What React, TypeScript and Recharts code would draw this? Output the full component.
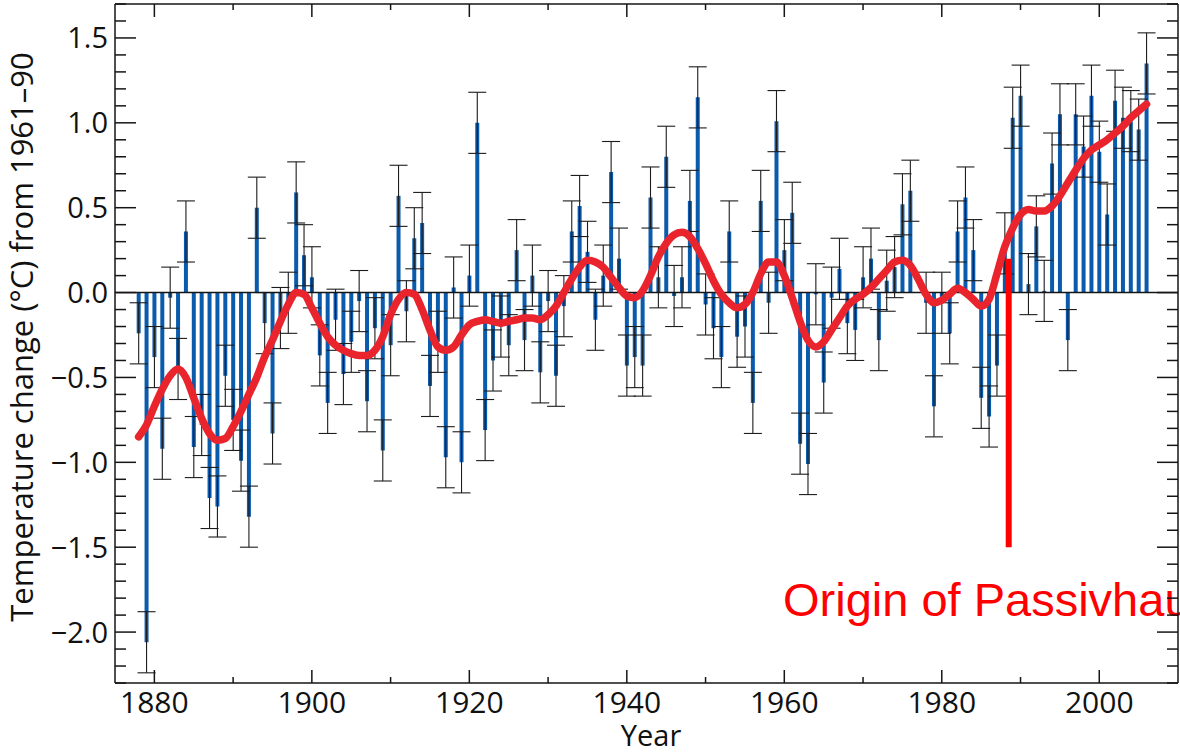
import React from 'react';
import { ComposedChart, Bar, Line, XAxis, YAxis, ErrorBar, ReferenceLine, Customized } from 'recharts';

// annual anomalies, 1878 .. 2006 (°C from 1961-90)
const FIRST_YEAR = 1878;
const anomalies = [
    -0.24, -2.06,
    -0.38, -0.92, -0.03, -0.45, 0.36, -0.91, -0.78, -1.21, -1.26, -0.49, // 1880s
    -0.75, -0.99, -1.32, 0.50, -0.18, -0.83, -0.15, -0.06, 0.59, 0.22, // 1890s
    0.09, -0.37, -0.65, -0.16, -0.48, -0.29, -0.05, -0.64, -0.21, -0.93, // 1900s
    -0.31, 0.57, -0.11, 0.32, 0.41, -0.55, -0.29, -0.97, 0.03, -1.00, // 1910s
    0.10, 1.00, -0.81, -0.40, -0.20, -0.31, 0.25, -0.28, 0.10, -0.47, // 1920s
    -0.05, -0.49, -0.08, 0.36, 0.51, 0.24, -0.16, 0.10, 0.71, 0.20, // 1930s
    -0.43, -0.38, -0.43, 0.56, 0.09, 0.80, -0.02, 0.09, 0.54, 1.15, // 1940s
    -0.07, -0.21, -0.38, 0.36, -0.26, -0.20, -0.65, 0.54, -0.06, 1.01, // 1950s
    0.25, 0.47, -0.89, -1.01, -0.01, -0.53, -0.03, 0.14, -0.18, -0.22, // 1960s
    0.09, 0.20, -0.28, 0.07, 0.15, 0.52, 0.60, 0.00, -0.06, -0.67, // 1970s
    -0.06, -0.24, 0.36, 0.56, 0.25, -0.62, -0.73, -0.43, 0.29, 1.03, // 1980s
    1.16, 0.05, 0.39, 0.01, 0.76, 1.05, -0.28, 1.05, 0.86, 1.16, // 1990s
    0.83, 0.46, 1.13, 1.03, 1.01, 0.96, 1.35, // 2000s
];

// smoothed curve, same years
const smoothed = [
    -0.85, -0.78,
    -0.67, -0.57, -0.49, -0.45, -0.50, -0.62, -0.74, -0.83, -0.87, -0.86,
    -0.79, -0.70, -0.60, -0.50, -0.38, -0.28, -0.17, -0.07, 0.00, -0.01,
    -0.09, -0.18, -0.26, -0.31, -0.34, -0.36, -0.37, -0.37, -0.34, -0.26,
    -0.13, -0.04, 0.00, -0.01, -0.10, -0.22, -0.32, -0.34, -0.32, -0.25,
    -0.19, -0.17, -0.16, -0.17, -0.18, -0.17, -0.16, -0.15, -0.15, -0.16,
    -0.13, -0.08, 0.00, 0.08, 0.15, 0.19, 0.18, 0.15, 0.09, 0.03,
    -0.02, -0.03, 0.01, 0.10, 0.21, 0.29, 0.34, 0.355, 0.33, 0.26,
    0.17, 0.07, -0.01, -0.06, -0.09, -0.07, 0.00, 0.11, 0.18, 0.18,
    0.10, -0.03, -0.17, -0.28, -0.32, -0.29, -0.22, -0.15, -0.08, -0.04,
    -0.01, 0.03, 0.08, 0.13, 0.18, 0.19, 0.16, 0.08, -0.01, -0.06,
    -0.045, -0.01, 0.025, 0.00, -0.04, -0.08, -0.04, 0.11, 0.27, 0.38,
    0.46, 0.49, 0.48, 0.48, 0.51, 0.57, 0.645, 0.72, 0.79, 0.84,
    0.87, 0.90, 0.94, 0.98, 1.03, 1.07, 1.11,
];

// every error bar in the figure is about ±0.18
const UNCERTAINTY = 0.18;

const xMajorTicks = [1880, 1900, 1920, 1940, 1960, 1980, 2000];
const xMinorTicks = [1890, 1910, 1930, 1950, 1970, 1990];
const yMajorTicks = [-2.0, -1.5, -1.0, -0.5, 0.0, 0.5, 1.0, 1.5];
const yAllTicks: number[] = [];
for (let i = -23; i <= 17; i++) yAllTicks.push(i / 10);

const PASSIVHAUS_YEAR = 1988.5;
const annotation = 'Origin of Passivhaus';
const yTitle = 'Temperature change (°C) from 1961–90';
const xTitle = 'Year';

const rows = anomalies.map((v, i) => ({
    year: FIRST_YEAR + i,
    anomaly: v,
    smooth: smoothed[i],
    err: UNCERTAINTY,
}));

const FONT = '"Open Sans", "Noto Sans", sans-serif';
const AXIS = '#151515';

const fmt = (v: number) => (v < 0 ? '\u2212' + Math.abs(v).toFixed(1) : v.toFixed(1));

const XTick = (props: any) => {
    const { x, y, payload, side } = props;
    const major = xMajorTicks.includes(payload.value);
    const len = major ? 13 : 6;
    const dir = side === 'top' ? 1 : -1;
    return (
        <g>
            <line x1={x} x2={x} y1={y} y2={y + dir * len} stroke={AXIS} strokeWidth={1.5} />
            {side === 'bottom' && major && (
                <text x={x} y={y + 30} textAnchor="middle" fontFamily={FONT} fontSize={30} fill="#111">
                    {payload.value}
                </text>
            )}
        </g>
    );
};

const YTick = (props: any) => {
    const { x, y, payload, side } = props;
    const v = Math.round(payload.value * 10) / 10;
    const major = yMajorTicks.some(t => Math.abs(t - v) < 1e-6);
    const len = major ? 21 : 11;
    const dir = side === 'left' ? 1 : -1;
    return (
        <g>
            <line x1={x} x2={x + dir * len} y1={y} y2={y} stroke={AXIS} strokeWidth={1.5} />
            {side === 'left' && major && (
                <text x={x - 7} y={y} dy="0.36em" textAnchor="end" fontFamily={FONT} fontSize={29} fill="#111">
                    {fmt(v)}
                </text>
            )}
        </g>
    );
};

const Labels = () => (
    <g>
        <text
            x={33}
            y={337}
            transform="rotate(-90 33 337)"
            textAnchor="middle"
            fontFamily={FONT}
            fontSize={31}
            fill="#111"
        >
            {yTitle}
        </text>
        <text x={651} y={746} textAnchor="middle" fontFamily={FONT} fontSize={29} fill="#111">
            {xTitle}
        </text>
        <text x={783} y={616} fontFamily='"Liberation Sans", Arial, sans-serif' fontSize={47} fill="#ff0000">
            {annotation}
        </text>
    </g>
);

const App: React.FC = () => {
    const axisLine = { stroke: AXIS, strokeWidth: 1.5 };
    return (
        <div style={{ position: 'absolute', left: 0, top: 0, width: 1180, height: 755, overflow: 'hidden', background: '#fff' }}>
            <ComposedChart width={1180} height={755} data={rows} margin={{ top: 3, right: 1, bottom: 71, left: 114 }}>
                <XAxis
                    xAxisId="b"
                    dataKey="year"
                    type="number"
                    domain={[1875, 2010]}
                    ticks={[...xMajorTicks, ...xMinorTicks]}
                    interval={0}
                    height={1}
                    tickSize={0}
                    tickMargin={0}
                    tickLine={false}
                    axisLine={axisLine}
                    tick={<XTick side="bottom" />}
                    allowDataOverflow
                />
                <XAxis
                    xAxisId="t"
                    orientation="top"
                    dataKey="year"
                    type="number"
                    domain={[1875, 2010]}
                    ticks={[...xMajorTicks, ...xMinorTicks]}
                    interval={0}
                    height={1}
                    tickSize={0}
                    tickMargin={0}
                    tickLine={false}
                    axisLine={axisLine}
                    tick={<XTick side="top" />}
                    allowDataOverflow
                />
                <YAxis
                    yAxisId="l"
                    type="number"
                    domain={[-2.3, 1.7]}
                    ticks={yAllTicks}
                    interval={0}
                    width={1}
                    tickSize={0}
                    tickMargin={0}
                    tickLine={false}
                    axisLine={axisLine}
                    tick={<YTick side="left" />}
                    allowDataOverflow
                />
                <YAxis
                    yAxisId="r"
                    orientation="right"
                    type="number"
                    domain={[-2.3, 1.7]}
                    ticks={yAllTicks}
                    interval={0}
                    width={1}
                    tickSize={0}
                    tickMargin={0}
                    tickLine={false}
                    axisLine={axisLine}
                    tick={<YTick side="right" />}
                    allowDataOverflow
                />
                <Bar xAxisId="b" yAxisId="l" dataKey="anomaly" fill="#0b5bad" barSize={4} isAnimationActive={false}>
                    <ErrorBar dataKey="err" width={9} stroke="#1c1c1c" strokeWidth={1.1} direction="y" />
                </Bar>
                <ReferenceLine xAxisId="b" yAxisId="l" y={0} stroke={AXIS} strokeWidth={1.5} />
                <Line
                    xAxisId="b"
                    yAxisId="l"
                    type="monotone"
                    dataKey="smooth"
                    stroke="#ea242c"
                    strokeWidth={7.5}
                    strokeLinecap="round"
                    dot={false}
                    activeDot={false}
                    isAnimationActive={false}
                />
                <ReferenceLine
                    xAxisId="b"
                    yAxisId="l"
                    segment={[{ x: PASSIVHAUS_YEAR, y: 0.2 }, { x: PASSIVHAUS_YEAR, y: -1.5 }]}
                    stroke="#ff0000"
                    strokeWidth={6}
                />
                <Customized component={Labels} />
            </ComposedChart>
        </div>
    );
};

export default App;
